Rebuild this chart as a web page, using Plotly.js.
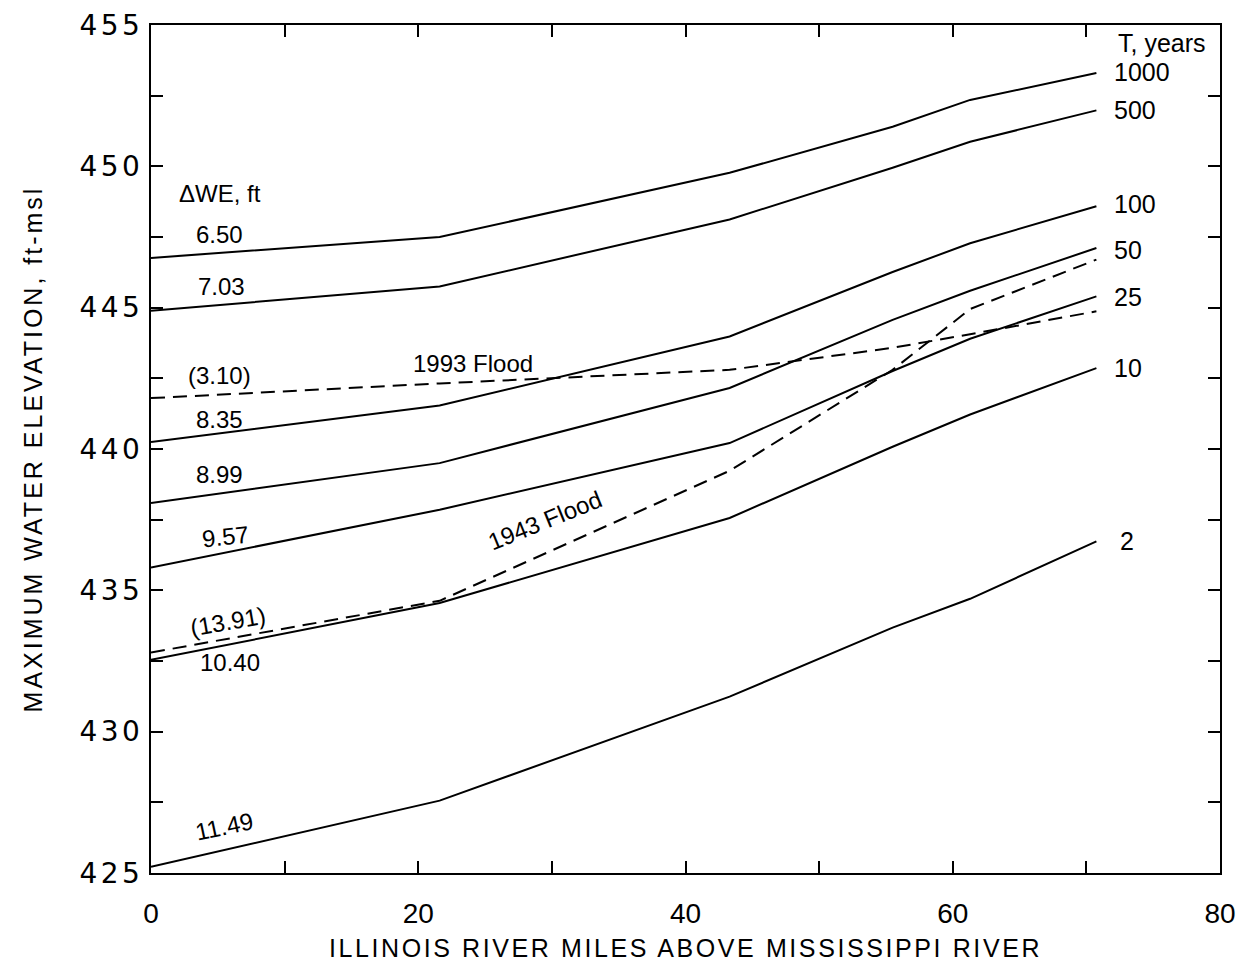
<!DOCTYPE html>
<html>
<head>
<meta charset="utf-8">
<script src="https://cdn.plot.ly/plotly-3.0.1.min.js"></script>
<style>
  html, body { margin: 0; padding: 0; background: #fff; }
  #chart { width: 1248px; height: 966px; }
  .xtitle { letter-spacing: 2.6px; }
  .ytitle { letter-spacing: 3px; }
  .ytick text { letter-spacing: 3.5px; }
</style>
</head>
<body>
<div id="chart"></div>
<script>
// River mile stations (miles above the Mississippi River)
const riverMile = [0, 21.6, 43.3, 55.5, 61.3, 70.75];

// Maximum water elevation (ft-msl) for return periods T (years)
const T1000 = [446.76, 447.5, 449.77, 451.4, 452.35, 453.3];
const T500  = [444.89, 445.75, 448.12, 449.95, 450.87, 451.98];
const T100  = [440.25, 441.54, 443.98, 446.26, 447.28, 448.59];
const T50   = [438.09, 439.5, 442.16, 444.57, 445.6, 447.11];
const T25   = [435.81, 437.85, 440.21, 442.76, 443.9, 445.4];
const T10   = [432.54, 434.55, 437.56, 440.08, 441.22, 442.86];
const T2    = [425.22, 427.56, 431.24, 433.68, 434.7, 436.73];

// Historical floods
const flood1993 = [441.8, 442.32, 442.8, 443.58, 444.06, 444.87];
const flood1943 = [432.8, 434.63, 439.23, 442.8, 444.95, 446.7];

const returnLabels = ["1000", "500", "100", "50", "25", "10", "2"];
const deltaWE = ["6.50", "7.03", "8.35", "8.99", "9.57", "10.40", "11.49"];
const floodDelta = ["(3.10)", "(13.91)"];

const solid = {color: "#000", width: 2};
const dashed = {color: "#000", width: 2, dash: "14px,8px"};

const series = [T1000, T500, T100, T50, T25, T10, T2];
const traces = series.map((s, i) => ({
  type: "scatter", mode: "lines", x: riverMile, y: s,
  line: solid, name: "T=" + returnLabels[i], hoverinfo: "x+y+name"
}));
traces.push({type: "scatter", mode: "lines", x: riverMile, y: flood1993, line: dashed, name: "1993 Flood"});
traces.push({type: "scatter", mode: "lines", x: riverMile, y: flood1943, line: dashed, name: "1943 Flood"});

const lblFont = {family: "Liberation Sans, Arial, sans-serif", size: 24, color: "#000"};
const rtFont = {family: "Liberation Sans, Arial, sans-serif", size: 25, color: "#000"};
function ann(text, x, y, opts) {
  return Object.assign({text: text, x: x, y: y, xref: "x", yref: "y", showarrow: false,
    font: lblFont, xanchor: "center", yanchor: "middle"}, opts || {});
}

const annotations = [
  ann("\u0394WE, ft", 5.16, 449.03),
  ann(deltaWE[0], 5.16, 447.58),
  ann(deltaWE[1], 5.31, 445.74),
  ann(floodDelta[0], 5.16, 442.59),
  ann(deltaWE[2], 5.16, 441.04),
  ann(deltaWE[3], 5.16, 439.1),
  ann(deltaWE[4], 5.61, 436.89, {textangle: -6}),
  ann(floodDelta[1], 5.76, 433.9, {textangle: -10}),
  ann(deltaWE[5], 5.91, 432.45),
  ann(deltaWE[6], 5.46, 426.66, {textangle: -12}),
  ann("1993 Flood", 24.08, 443.02),
  ann("1943 Flood", 29.47, 437.46, {textangle: -22}),
  ann("T, years", 72.25, 454.38, {xanchor: "left", font: rtFont}),
  ann(returnLabels[0], 71.95, 453.35, {xanchor: "left", font: rtFont}),
  ann(returnLabels[1], 71.95, 452.0, {xanchor: "left", font: rtFont}),
  ann(returnLabels[2], 71.95, 448.65, {xanchor: "left", font: rtFont}),
  ann(returnLabels[3], 71.95, 447.05, {xanchor: "left", font: rtFont}),
  ann(returnLabels[4], 71.95, 445.39, {xanchor: "left", font: rtFont}),
  ann(returnLabels[5], 71.95, 442.88, {xanchor: "left", font: rtFont}),
  ann(returnLabels[6], 72.4, 436.75, {xanchor: "left", font: rtFont})
];

const axisCommon = {
  showgrid: false, zeroline: false, showline: true, linecolor: "#000", linewidth: 2,
  mirror: "ticks", ticks: "inside", ticklen: 12, tickwidth: 2, tickcolor: "#000"
};

const layout = {
  width: 1248, height: 966,
  margin: {l: 151, r: 28, t: 25, b: 93},
  paper_bgcolor: "#fff", plot_bgcolor: "#fff",
  showlegend: false,
  xaxis: Object.assign({}, axisCommon, {
    range: [0, 80], dtick: 20, tick0: 0,
    minor: {dtick: 10, ticks: "inside", ticklen: 12, tickwidth: 2, tickcolor: "#000", showgrid: false},
    ticklabelstandoff: 14,
    tickfont: {family: "Liberation Sans, Arial, sans-serif", size: 28, color: "#000"},
    title: {text: "ILLINOIS RIVER MILES ABOVE MISSISSIPPI RIVER",
      font: {family: "Liberation Sans, Arial, sans-serif", size: 25, color: "#000"},
      standoff: 12}
  }),
  yaxis: Object.assign({}, axisCommon, {
    range: [425, 455], dtick: 5, tick0: 425,
    minor: {dtick: 2.5, ticks: "inside", ticklen: 12, tickwidth: 2, tickcolor: "#000", showgrid: false},
    tickfont: {family: "DejaVu Sans, sans-serif", size: 28, color: "#000"},
    title: {text: "MAXIMUM WATER ELEVATION, ft-msl",
      font: {family: "Liberation Sans, Arial, sans-serif", size: 25, color: "#000"},
      standoff: 30}
  }),
  annotations: annotations
};

Plotly.newPlot("chart", traces, layout, {displayModeBar: false, staticPlot: true});
</script>
</body>
</html>
